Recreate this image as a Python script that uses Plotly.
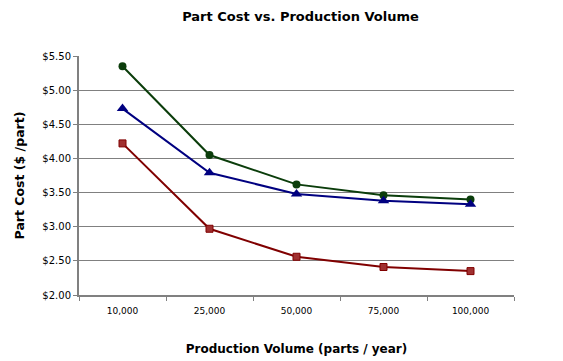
import plotly.graph_objects as go

categories = ["10,000", "25,000", "50,000", "75,000", "100,000"]
green_vals = [5.35, 4.05, 3.62, 3.46, 3.40]
blue_vals = [4.73, 3.79, 3.48, 3.38, 3.33]
red_vals = [4.22, 2.97, 2.56, 2.41, 2.35]
y_ticks = [2.0, 2.5, 3.0, 3.5, 4.0, 4.5, 5.0, 5.5]
y_tick_text = ["$%.2f" % v for v in y_ticks]

FONT = "DejaVu Sans"

fig = go.Figure()
fig.add_trace(go.Scatter(x=categories, y=green_vals, mode="lines+markers",
                         line=dict(color="#0b3d0b", width=2),
                         marker=dict(symbol="circle", size=8, color="#0b3d0b")))
fig.add_trace(go.Scatter(x=categories, y=blue_vals, mode="lines+markers",
                         line=dict(color="#000080", width=2),
                         marker=dict(symbol="triangle-up", size=10, color="#000080")))
fig.add_trace(go.Scatter(x=categories, y=red_vals, mode="lines+markers",
                         line=dict(color="#800000", width=2),
                         marker=dict(symbol="square", size=7, color="#a03030",
                                     line=dict(color="#800000", width=1))))

fig.update_layout(
    width=555, height=353,
    margin=dict(l=71, r=49, t=48, b=66),
    paper_bgcolor="white", plot_bgcolor="white",
    showlegend=False,
    title=dict(text="<b>Part Cost vs. Production Volume</b>", x=0.527, xanchor="center",
               y=0.975, yanchor="middle",
               font=dict(family=FONT, size=13, color="black")),
    font=dict(family=FONT, color="black"),
)
fig.update_xaxes(
    type="category", range=[-0.5, 4.5], automargin=False,
    showline=True, linecolor="#808080", linewidth=2,
    ticks="outside", tickson="boundaries", ticklen=4, tickcolor="#808080",
    ticklabelstandoff=6,
    showgrid=False, tickfont=dict(family=FONT, size=9, color="black"),
    title=dict(text="<b>Production Volume (parts / year)</b>", standoff=30,
               font=dict(family=FONT, size=12, color="black")),
)
fig.update_yaxes(
    range=[2.0, 5.5], tickvals=y_ticks, ticktext=y_tick_text, automargin=False,
    showline=True, linecolor="#808080", linewidth=2,
    ticks="outside", ticklen=4, tickcolor="#808080",
    showgrid=True, gridcolor="#808080", gridwidth=1,
    zeroline=False,
    tickfont=dict(family=FONT, size=10, color="black"),
    title=dict(text="<b>Part Cost ($ /part)</b>", standoff=15,
               font=dict(family=FONT, size=12.5, color="black")),
)

fig.write_html("out.html")
